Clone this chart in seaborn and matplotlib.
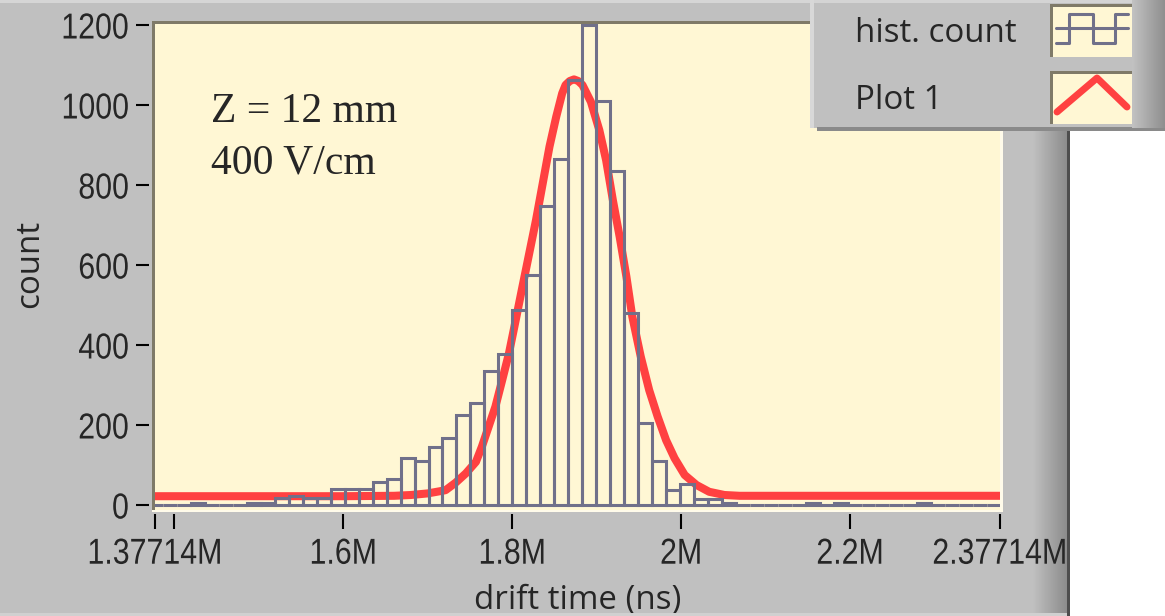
import numpy as np
import matplotlib
matplotlib.use("Agg")
import matplotlib.pyplot as plt
from matplotlib import font_manager
from matplotlib.lines import Line2D
from matplotlib.patches import Rectangle
from matplotlib.patheffects import AbstractPathEffect
from matplotlib.transforms import Affine2D
import seaborn as sns

# --- data ---
# histogram: 61 equal bins, one edge sits on 1.8M ns
bin_width = 16530.0
first_edge = 1.8e6 - 26 * bin_width
hist_counts = [0, 0, 0, 5, 0, 0, 0, 5, 5, 17,
               23, 17, 17, 39, 39, 39, 58, 65, 117, 111,
               145, 168, 226, 256, 335, 377, 487, 574, 748, 864,
               1062, 1200, 1009, 835, 479, 204, 110, 38, 53, 15,
               15, 6, 0, 0, 0, 0, 0, 4, 0, 4,
               0, 0, 0, 0, 0, 4, 0, 0, 0, 0,
               0]

# fitted curve ("Plot 1") (x in M ns)
fit_x = [1.37714, 1.60, 1.66, 1.68, 1.70, 1.721, 1.733, 1.745, 1.757, 1.764,
         1.772, 1.780, 1.788, 1.796, 1.804, 1.812, 1.820, 1.828, 1.836, 1.844,
         1.852, 1.859, 1.863, 1.868, 1.873, 1.878, 1.883, 1.893, 1.903, 1.911,
         1.919, 1.927, 1.935, 1.942, 1.952, 1.962, 1.972, 1.982, 1.992, 2.004,
         2.018, 2.033, 2.051, 2.069, 2.20, 2.37714]
fit_y = [22, 22, 23, 25, 29, 37, 56, 79, 108, 146,
         196, 246, 312, 379, 462, 546, 629, 712, 804, 896,
         971, 1029, 1050, 1060, 1064, 1060, 1050, 1008, 937, 862,
         762, 671, 571, 471, 371, 287, 221, 162, 117, 75,
         50, 33, 25, 23, 23, 23]

xtick_vals = [1.37714e6, 1.4e6, 1.6e6, 1.8e6, 2.0e6, 2.2e6, 2.37714e6]
xtick_labels = ["1.37714M", "", "1.6M", "1.8M", "2M", "2.2M", "2.37714M"]
ytick_vals = [0, 200, 400, 600, 800, 1000, 1200]

legend_labels = ["hist. count", "Plot 1"]
note_lines = ["Z = 12 mm", "400 V/cm"]

# --- style ---
BG = "#c0c0c0"
CREAM = "#fff7d4"
HIST = "#70708a"
RED = "#ff4141"
BORDER = "#7f7a68"
W, H = 1165, 616

sns.set_style("ticks")
names = {f.name for f in font_manager.fontManager.ttflist}
label_font = "Open Sans" if "Open Sans" in names else "DejaVu Sans"
plt.rcParams["font.family"] = [label_font, "DejaVu Sans"]


class Squeeze(AbstractPathEffect):
    # LabVIEW scale labels use a narrow face; squeeze a regular one horizontally
    def __init__(self, sx, where):
        super().__init__()
        self.sx, self.where = sx, where

    def draw_path(self, renderer, gc, tpath, affine, rgbFace=None):
        ext = tpath.get_extents(affine)
        x0 = ext.x1 if self.where == "right" else (ext.x0 + ext.x1) / 2
        aff = affine + Affine2D().translate(-x0, 0).scale(self.sx, 1).translate(x0, 0)
        renderer.draw_path(gc, tpath, aff, rgbFace)


def fx(x):
    return x / W


def fy(y):
    return 1 - y / H


def box(x0, y0, x1, y1, color, z=1):
    fig.add_artist(Rectangle((fx(x0), fy(y1)), fx(x1) - fx(x0), fy(y0) - fy(y1),
                             transform=fig.transFigure, facecolor=color,
                             edgecolor="none", zorder=z))


def gradient(x0, y0, x1, y1, g0, g1, z=1.5):
    gax = fig.add_axes([fx(x0), fy(y1), fx(x1) - fx(x0), fy(y0) - fy(y1)], zorder=z)
    gax.imshow(np.linspace(g0, g1, 64)[None, :], cmap="gray", vmin=0, vmax=1,
               aspect="auto", interpolation="bilinear")
    gax.axis("off")


fig = plt.figure(figsize=(W / 100, H / 100), dpi=100, facecolor=BG)
ax = fig.add_axes([fx(155), fy(509.5), (1000 - 155) / W, 486 / H])
ax.set_facecolor(CREAM)

edges = first_edge + bin_width * np.arange(len(hist_counts) + 1)
centers = edges[:-1] + bin_width / 2

sns.lineplot(x=np.array(fit_x) * 1e6, y=fit_y, color=RED, linewidth=5.8,
             ax=ax, zorder=2, errorbar=None)
sns.histplot(x=centers, weights=hist_counts, bins=list(edges), element="bars",
             fill=False, color=HIST, linewidth=2.2, ax=ax, zorder=3)

ax.set_xlim(1.37714e6, 2.37714e6)
ax.set_ylim(-11.25, 1203.75)

for s in ax.spines.values():
    s.set_visible(False)
ax.spines["left"].set_position(("outward", 4))
ax.spines["bottom"].set_position(("outward", 3))

ax.set_xticks(xtick_vals, xtick_labels)
ax.set_yticks(ytick_vals, [str(v) for v in ytick_vals])
ax.tick_params(axis="x", direction="out", length=10.8, width=1.5, pad=5.8, color="black")
ax.tick_params(axis="y", direction="out", length=9.4, width=1.5, pad=5.3, color="black")
for lab in ax.get_xticklabels():
    lab.set_fontfamily("Liberation Sans")
    lab.set_fontsize(26)
    lab.set_path_effects([Squeeze(0.84, "center")])
for lab in ax.get_yticklabels():
    lab.set_fontfamily("Liberation Sans")
    lab.set_fontsize(26)
    lab.set_path_effects([Squeeze(0.84, "right")])

ax.set_xlabel("drift time (ns)", fontsize=23.8)
ax.xaxis.label.set_va("baseline")
ax.xaxis.set_label_coords(0.5, (509.5 - 609) / 486)
ax.set_ylabel("count", fontsize=23.8)
ax.yaxis.label.set_va("baseline")
ax.yaxis.set_label_coords((38 - 155) / 845, 0.5 + 3 / 486)

# plot-area bevel
box(151.7, 21, 1002.5, 24, BORDER)
box(151.7, 21, 154.5, 510, BORDER)
box(999.5, 22, 1002.5, 511.5, "#fffbea")
box(151.7, 509.5, 1002.5, 511.5, "#fffbea")

# annotation
fig.text(fx(211), fy(121.7), note_lines[0], family="Liberation Serif", fontsize=30, va="baseline")
fig.text(fx(211), fy(173.3), note_lines[1], family="Liberation Serif", fontsize=30, va="baseline")

# window frame to the right (behind the plot axes so the last tick label shows)
gradient(1033, 131, 1067, 616, 0.753, 0.55, z=-1)
box(1067, 131, 1070, 616, "#4d4d4d", z=2)
box(1070, 131, W, 616, "white", z=2)
box(0, 0, W, 3, "#d6d6d6", z=0.5)
box(0, 613, 1067, 616, "#d0d0d0")

# legend panel
box(810, 0, 1132, 128, BG, z=1.2)
box(810, 0, 1165, 3, "#d4d4d4", z=1.3)
box(810, 0, 814, 128, "#d8d8d8", z=1.3)
gradient(1132, 0, W, 128, 0.76, 0.56, z=1.4)
box(817, 127, W, 131, "#8a8a8a", z=1.3)
for i, lab in enumerate(legend_labels):
    top = 4 + 67 * i
    fig.text(fx(855), fy(top + 37.7), lab, fontsize=23.8, va="baseline", zorder=5)
    box(1050, top, 1132, top + 53, CREAM, z=2)
    box(1050, top, 1132, top + 3, BORDER, z=2.1)
    box(1050, top, 1053, top + 53, BORDER, z=2.1)

hx = [1056, 1069, 1069, 1093, 1093, 1115, 1115, 1128]
hy = [43.3, 43.3, 14, 14, 43.3, 43.3, 14, 14]
fig.add_artist(Line2D([fx(v) for v in hx], [fy(v) for v in hy], color=HIST,
                      linewidth=2.2, transform=fig.transFigure, zorder=3))
fig.add_artist(Line2D([fx(1056), fx(1128)], [fy(28.3), fy(28.3)], color=HIST,
                      linewidth=2.2, transform=fig.transFigure, zorder=3))
fig.add_artist(Line2D([fx(1057), fx(1097), fx(1127)], [fy(112), fy(78), fy(107)],
                      color=RED, linewidth=5, transform=fig.transFigure, zorder=3))

fig.savefig("out.png", dpi=100, facecolor=BG)
